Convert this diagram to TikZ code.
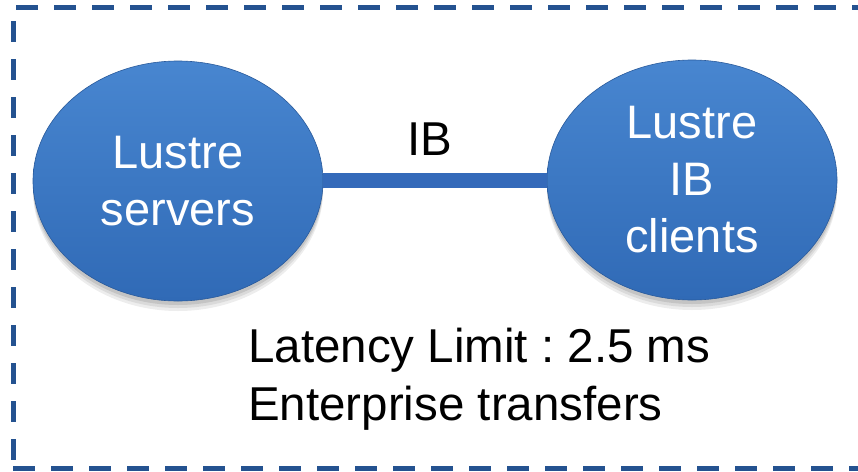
\documentclass[tikz,border=0pt]{standalone}
\usepackage{fontspec}
\setmainfont{Liberation Sans}
\frenchspacing
\usetikzlibrary{shapes.geometric}
\definecolor{dashblue}{RGB}{36,82,144}
\definecolor{ballmid}{RGB}{51,110,186}
\definecolor{balltop}{RGB}{72,134,208}
\definecolor{ballbot}{RGB}{48,106,182}
\definecolor{linkblue}{RGB}{52,106,186}
\begin{document}
\begin{tikzpicture}[x=1pt,y=-1pt,
  frame/.style={dashblue, line width=5pt},
  ball/.style={ellipse, minimum width=290pt, minimum height=240pt, inner sep=0pt,
    top color=balltop, middle color=ballmid, bottom color=ballbot,
    draw=ballbot!85!black, line width=0.6pt,
    text=white, align=center, font=\fontsize{47}{57}\selectfont,
    preaction={fill=black, draw=none, opacity=0.07, transform canvas={yshift=-10pt}},
    preaction={fill=black, draw=none, opacity=0.08, transform canvas={yshift=-7pt}},
    preaction={fill=black, draw=none, opacity=0.10, transform canvas={yshift=-4pt}}},
  link/.style={linkblue, line width=15pt},
  lbl/.style={font=\fontsize{47.5}{58}\selectfont, text=black, inner sep=0pt}]
\useasboundingbox (0,0) rectangle (858,471);
\clip (0,0) rectangle (858,471);
% dashed frame (open at the right side)
\draw[frame, dash pattern=on 22pt off 16pt] (16,7) -- (880,7);
\draw[frame, dash pattern=on 21pt off 17pt] (13,21) -- (13,461);
\draw[frame, dash pattern=on 22pt off 16pt] (13,468) -- (880,468);
% nodes
\node[ball] (srv) at (178,181) {Lustre\\servers};
\node[ball] (cli) at (692,180) {Lustre\\IB\\clients};
% connector
\draw[link] (srv.east |- 0,180) -- (cli.west);
% labels
\node[lbl, anchor=base] (iblbl) at (430,155) {IB};
\node[lbl, anchor=north west, align=left] (note) at (248,328) {Latency Limit : 2.5 ms\\Enterprise transfers};
\end{tikzpicture}
\end{document}
